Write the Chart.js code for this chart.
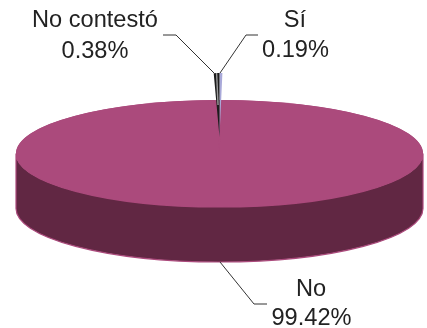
<!DOCTYPE html>
<html>
<head>
<meta charset="utf-8">
<style>
  html, body { margin: 0; padding: 0; background: #fff; }
  #wrap { position: relative; width: 427px; height: 328px; }
</style>
<script src="https://cdn.jsdelivr.net/npm/chart.js@4"></script>
</head>
<body>
<div id="wrap"><canvas id="pie3d" width="427" height="328"></canvas></div>
<script>
const categories = ["Sí", "No", "No contestó"];
const values = [0.19, 99.42, 0.38];
const percentLabels = ["0.19%", "99.42%", "0.38%"];
const sliceColors = ["#a9a9d9", "#ab4a7c", "#1c1c1c"];
const wallColors = ["#a9a9d9", "#612743", "#1c1c1c"];

const squash = 53.5 / 203.5;
const depth = 55;
// the two small slices are pulled out of the pie, towards the back
const pulledOut = 16.5 / squash;
const pulledRadius = 243;

// squashed top face plus the wall under it
const pie3d = {
  id: "pie3d",
  afterDatasetUpdate(chart) {
    const arcs = chart.getDatasetMeta(0).data;
    [arcs[0], arcs[2]].forEach((arc) => {
      arc.y = arcs[1].y - pulledOut;
      arc.outerRadius = pulledRadius;
    });
  },
  beforeDatasetsDraw(chart) {
    const ctx = chart.ctx;
    const arcs = chart.getDatasetMeta(0).data;
    const cx = arcs[1].x;
    const cy = arcs[1].y;
    const r = arcs[1].outerRadius;
    const sy = r * squash;

    // front wall of the big slice, only the part below the horizon shows
    ctx.save();
    ctx.beginPath();
    ctx.ellipse(cx, cy, r, sy, 0, 0, Math.PI);
    ctx.lineTo(cx - r, cy + depth);
    ctx.ellipse(cx, cy + depth, r, sy, 0, Math.PI, 0, true);
    ctx.closePath();
    ctx.fillStyle = wallColors[1];
    ctx.fill();
    ctx.strokeStyle = sliceColors[1];
    ctx.lineWidth = 1.2;
    ctx.stroke();
    // closes the notch the pulled slices leave behind
    ctx.beginPath();
    ctx.ellipse(cx, cy, r, sy, 0, 0, Math.PI * 2);
    ctx.fillStyle = sliceColors[1];
    ctx.fill();
    ctx.restore();

    ctx.save();
    ctx.translate(cx, cy);
    ctx.scale(1, squash);
    ctx.translate(-cx, -cy);
  },
  afterDatasetsDraw(chart) {
    const ctx = chart.ctx;
    const arcs = chart.getDatasetMeta(0).data;
    // light streak down the black slice
    const black = arcs[2];
    const mid = (black.startAngle + black.endAngle) / 2;
    const end = pulledRadius;
    ctx.beginPath();
    ctx.moveTo(black.x + Math.cos(mid) * end * 0.5, black.y + Math.sin(mid) * end * 0.5);
    ctx.lineTo(black.x + Math.cos(mid) * end, black.y + Math.sin(mid) * end);
    ctx.strokeStyle = "#9a9a9a";
    ctx.lineWidth = 1.4;
    ctx.stroke();
    ctx.restore();
    drawLabels(chart);
  }
};

function leader(ctx, pts) {
  ctx.beginPath();
  pts.forEach((p, i) => (i ? ctx.lineTo(p[0], p[1]) : ctx.moveTo(p[0], p[1])));
  ctx.stroke();
}

function drawLabels(chart) {
  const ctx = chart.ctx;
  ctx.save();
  ctx.strokeStyle = "#333";
  ctx.lineWidth = 1;
  leader(ctx, [[163, 35], [176, 35], [214, 73]]);
  leader(ctx, [[258, 35], [246, 35], [220, 73]]);
  leader(ctx, [[220, 262], [254, 304], [267, 304]]);
  ctx.fillStyle = "#222";
  ctx.font = '23.6px "Liberation Sans"';
  ctx.textAlign = "center";
  ctx.textBaseline = "alphabetic";
  ctx.fillText(categories[2], 95, 27);
  ctx.fillText(percentLabels[2], 95, 58);
  ctx.fillText(categories[0], 295, 27);
  ctx.fillText(percentLabels[0], 295.5, 57);
  ctx.fillText(categories[1], 311, 296);
  ctx.fillText(percentLabels[1], 311.5, 325);
  ctx.restore();
}

new Chart(document.getElementById("pie3d"), {
  type: "pie",
  data: {
    labels: categories,
    datasets: [{
      data: values,
      backgroundColor: sliceColors,
      borderWidth: 0
    }]
  },
  options: {
    responsive: false,
    animation: false,
    rotation: 0,
    radius: 203.5,
    layout: { padding: { left: 12, bottom: 21 } },
    plugins: { legend: { display: false }, tooltip: { enabled: false } }
  },
  plugins: [pie3d]
});
</script>
</body>
</html>
